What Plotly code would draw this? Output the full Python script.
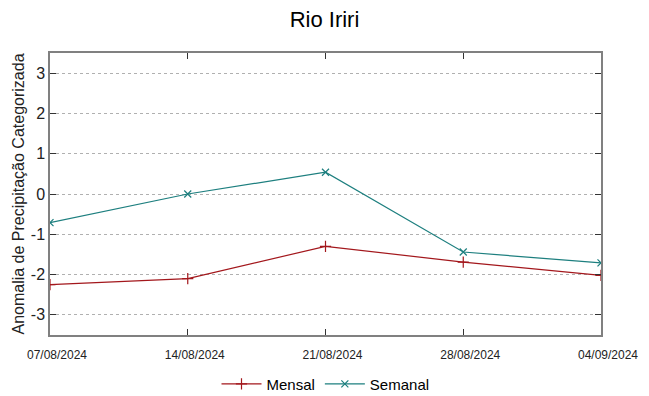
import plotly.graph_objects as go

dates = ["2024-08-07", "2024-08-14", "2024-08-21", "2024-08-28", "2024-09-04"]
tick_labels = ["07/08/2024", "14/08/2024", "21/08/2024", "28/08/2024", "04/09/2024"]
mensal = [-2.25, -2.10, -1.30, -1.69, -2.02]
semanal = [-0.71, 0.00, 0.54, -1.44, -1.71]
y_ticks = [-3, -2, -1, 0, 1, 2, 3]
y_tick_labels = ["-3", "-2", "-1", "0", "1", "2", "3"]

fig = go.Figure()
fig.add_trace(go.Scatter(x=dates, y=mensal, name="Mensal", mode="lines+markers",
                         line=dict(color="#a3171c", width=1.2),
                         marker=dict(symbol="cross-thin", size=8, line=dict(color="#a3171c", width=1.2))))
fig.add_trace(go.Scatter(x=dates, y=semanal, name="Semanal", mode="lines+markers",
                         line=dict(color="#1d7f7f", width=1.2),
                         marker=dict(symbol="x-thin", size=7, line=dict(color="#1d7f7f", width=1.2))))

fig.update_layout(
    width=649, height=396,
    margin=dict(l=50, r=48, t=53, b=61, autoexpand=False),
    paper_bgcolor="white", plot_bgcolor="white",
    title=dict(text="Rio Iriri", x=0.5, xref="container", xanchor="center", y=0.952, yanchor="middle",
               font=dict(family="Liberation Sans, Arial", size=22, color="black")),
    font=dict(family="Liberation Sans, Arial", color="black"),
    showlegend=True,
    legend=dict(orientation="h", x=0.5, xanchor="center", y=-0.174, yanchor="middle",
                font=dict(family="Liberation Sans, Arial", size=15),
                itemwidth=40, tracegroupgap=0),
)
fig.update_xaxes(
    type="date", range=[dates[0], dates[-1]],
    tickvals=dates, ticktext=tick_labels,
    tickfont=dict(family="Liberation Sans, Arial", size=12, color="#222222"),
    ticks="inside", ticklen=6, tickcolor="#333333",
    ticklabelstandoff=8, ticklabelshift=7,
    showline=True, linecolor="#808080", linewidth=1.5, mirror="ticks",
    showgrid=False, zeroline=False, automargin=False,
)
fig.update_yaxes(
    range=[-3.5, 3.5], tickvals=y_ticks, ticktext=y_tick_labels,
    tickfont=dict(size=16, color="#222222"),
    ticks="inside", ticklen=6, tickcolor="#333333",
    showline=True, linecolor="#808080", linewidth=1.5, mirror="ticks",
    showgrid=True, gridcolor="#b0b0b0", griddash="dot", gridwidth=1,
    zeroline=False, automargin=False,
    title=dict(text="Anomalia de Precipitação Categorizada", font=dict(size=16, color="#222222"), standoff=2),
)
fig.write_html("out.html", config={"displayModeBar": False},
               post_script="document.body.style.margin='0';document.body.style.overflow='hidden';")
